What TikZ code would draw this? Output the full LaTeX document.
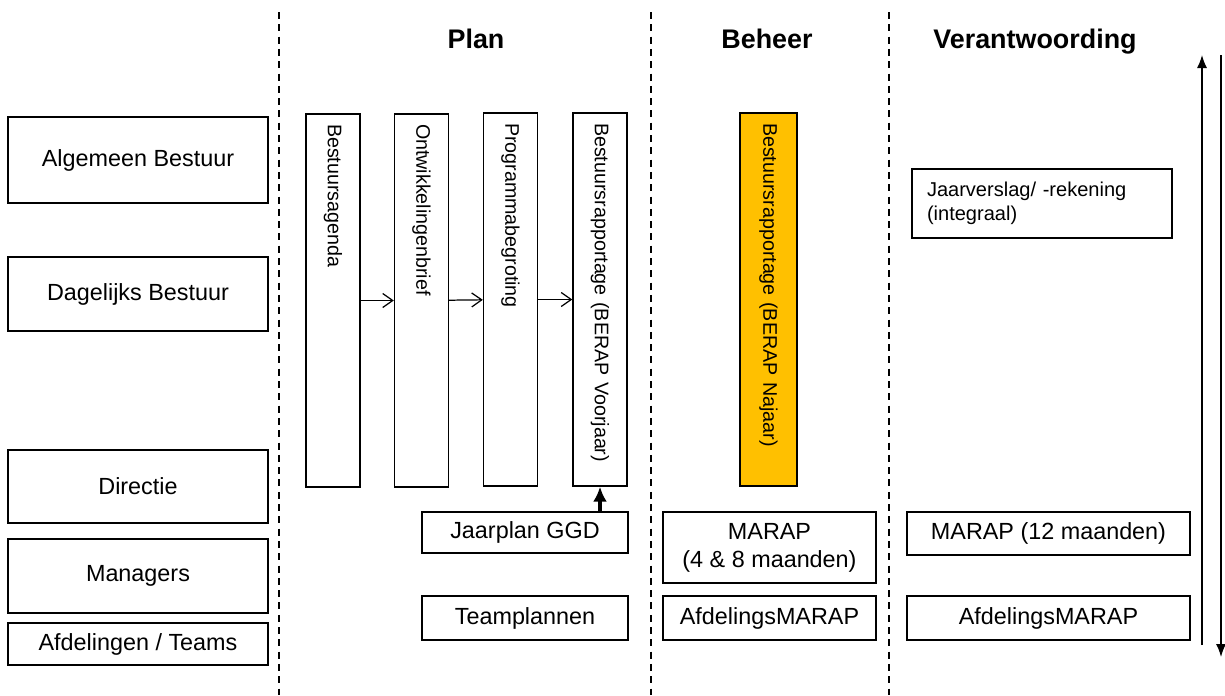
\documentclass[tikz,border=0pt]{standalone}
\usepackage{fontspec}
\setmainfont{Liberation Sans}
\usetikzlibrary{positioning, arrows.meta}
\definecolor{Amber}{RGB}{255,192,0}

\begin{document}
\begin{tikzpicture}
      \tikzset{ lvl/.style ={draw=black, line width=0.8pt, minimum width=5.2cm, inner sep=0pt, font=\fontsize{13.3}{16}\selectfont, align=center                                                   } }
      \tikzset{ doc/.style ={draw=black, line width=0.8pt, rotate=-90, minimum height=1.08cm, text width=7.06cm, inner xsep=0.2cm, align=left, font=\fontsize{11.2}{13}\selectfont             } }
      \tikzset{ prod/.style={draw=black, line width=0.8pt, inner sep=0pt, font=\fontsize{13.3}{16}\selectfont, align=center                                                                      } }
      \tikzset{ hdr/.style ={anchor=base, font=\bfseries\fontsize{15.3}{18}\selectfont                                                                                                            } }
      \tikzset{ sep/.style ={line width=0.8pt, dash pattern=on 4pt off 3pt                                                                                                                       } }
      \tikzset{ flow/.style={line width=0.7pt, -{Straight Barb[length=2mm,width=2.8mm]}                                                                                                          } }

      \path[use as bounding box] (0, 0) rectangle (24.5, -13.9);

      \draw[sep] (5.58, -0.24) -- (5.58, -13.9);
      \draw[sep] (13.02, -0.24) -- (13.02, -13.9);
      \draw[sep] (17.78, -0.24) -- (17.78, -13.9);

      \node[hdr] (plan) at ( 9.52, -0.96) {Plan};
      \node[hdr] (bhr)  at (15.34, -0.96) {Beheer};
      \node[hdr] (vrw)  at (20.70, -0.96) {Verantwoording};

      \node[lvl, minimum height=1.72cm] (ab)  at (2.76,  -3.20) {Algemeen Bestuur};
      \node[lvl, minimum height=1.48cm] (db)  at (2.76,  -5.88) {Dagelijks Bestuur};
      \node[lvl, minimum height=1.46cm] (dir) at (2.76,  -9.73) {Directie};
      \node[lvl, minimum height=1.48cm] (man) at (2.76, -11.52) {Managers};
      \node[lvl, minimum height=0.84cm] (afd) at (2.76, -12.88) {Afdelingen / Teams};

      \node[doc] (bag) at ( 6.66, -6.01) {Bestuursagenda};
      \node[doc] (owb) at ( 8.43, -6.01) {Ontwikkelingenbrief};
      \node[doc] (pbg) at (10.21, -5.99) {Programmabegroting};
      \node[doc] (bvj) at (12.00, -5.99) {Bestuursrapportage (BERAP Voorjaar)};
      \node[doc, fill=Amber, minimum height=1.14cm] (bnj) at (15.37, -5.99) {Bestuursrapportage (BERAP Najaar)};

      \node[prod, text width=4.6cm, inner xsep=0.3cm, minimum height=1.38cm, align=left, font=\fontsize{11.4}{14}\selectfont] (jvr) at (20.84, -4.07) {Jaarverslag/ -rekening\\(integraal)};

      \node[prod, minimum width=4.12cm, minimum height=0.82cm] (jpl)  at (10.50, -10.65) {Jaarplan GGD};
      \node[prod, minimum width=4.12cm, minimum height=0.88cm] (tpl)  at (10.50, -12.36) {Teamplannen};
      \node[prod, minimum width=4.26cm, minimum height=1.42cm] (mr8)  at (15.39, -10.95) {MARAP\\(4 \& 8 maanden)};
      \node[prod, minimum width=4.26cm, minimum height=0.88cm] (amb)  at (15.39, -12.36) {AfdelingsMARAP};
      \node[prod, minimum width=5.66cm, minimum height=0.86cm] (mr12) at (20.97, -10.67) {MARAP (12 maanden)};
      \node[prod, minimum width=5.66cm, minimum height=0.88cm] (amv)  at (20.97, -12.36) {AfdelingsMARAP};

      \draw[flow] (bag) -- (owb);
      \draw[flow] (owb) -- (pbg);
      \draw[flow] (pbg) -- (bvj);
      \draw[line width=2pt, -{Latex[length=3mm,width=2.8mm]}] (bvj |- jpl.north) -- (bvj);

      \coordinate (upb) at (24.04, -12.90);
      \coordinate (upt) at (24.04,  -1.10);
      \coordinate (dnt) at (24.42,  -1.10);
      \coordinate (dnb) at (24.42, -13.14);
      \draw[line width=0.8pt, -{Latex[length=2.6mm,width=2mm]}] (upb) -- (upt);
      \draw[line width=0.8pt, -{Latex[length=2.6mm,width=2mm]}] (dnt) -- (dnb);
    \end{tikzpicture}
\end{document}
